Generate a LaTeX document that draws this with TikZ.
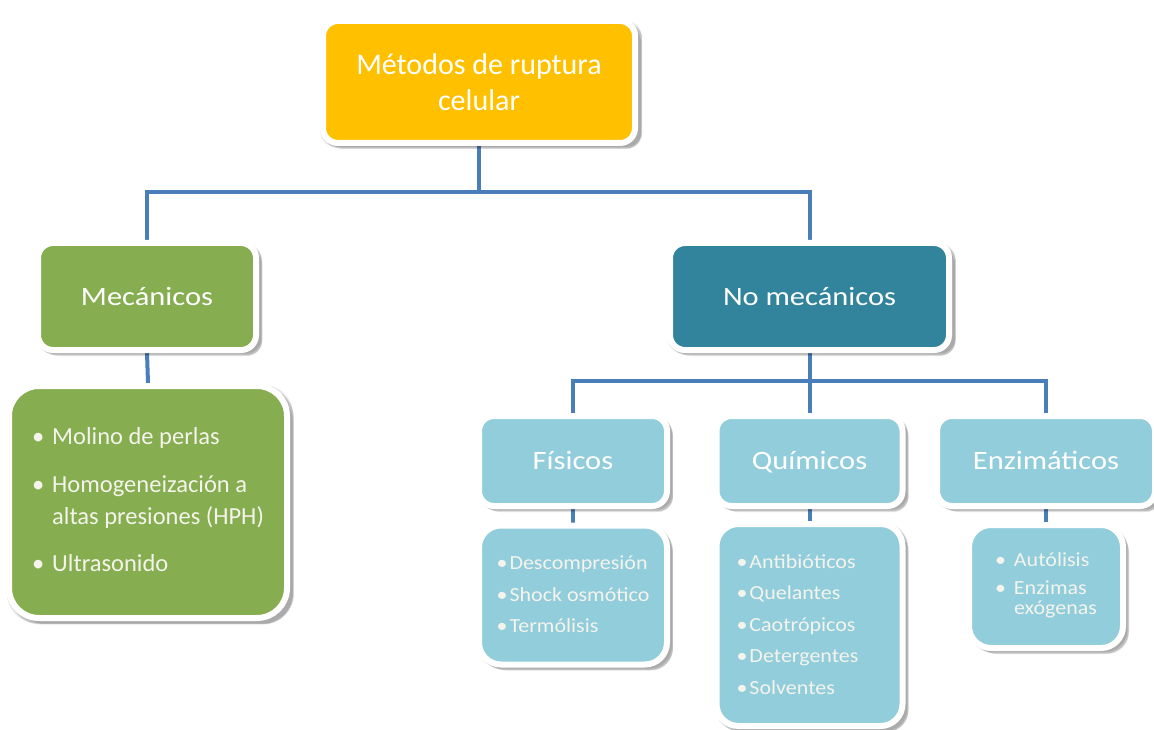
\documentclass[tikz,border=0pt]{standalone}
\usepackage{fontspec}
\setmainfont{Carlito}
\newfontfamily\hdfont{Carlito}[FakeStretch=1.15]
\newfontfamily\lsfont{Carlito}[FakeStretch=1.1]
\usetikzlibrary{shadows,backgrounds}
\definecolor{cyellow}{HTML}{FFC000}
\definecolor{cgreen}{HTML}{86AD4F}
\definecolor{cteal}{HTML}{31849B}
\definecolor{clight}{HTML}{92CDDC}
\definecolor{cline}{HTML}{4A7EBB}
\definecolor{ctext}{HTML}{F4F4EC}
\tikzset{
  box/.style={rounded corners=15pt, draw=white, line width=6pt, align=center, inner sep=0pt,
    drop shadow={shadow xshift=2pt, shadow yshift=-2pt, shadow scale=1.03, opacity=0.10, fill=black},
    drop shadow={shadow xshift=4pt, shadow yshift=-4pt, shadow scale=1.02, opacity=0.15, fill=black},
    drop shadow={shadow xshift=6pt, shadow yshift=-6pt, opacity=0.12, fill=black}},
  hd/.style={box, text=white, font=\hdfont\fontsize{26.5}{34}\selectfont, text height=22pt, text depth=5pt},
  lst/.style={box, text=ctext},
  conn/.style={draw=cline, line width=4pt}
}
\begin{document}
\begin{tikzpicture}[x=1pt,y=-1pt]
\useasboundingbox (0,0) rectangle (1154,730);
\node[box, fill=cyellow, minimum width=312pt, minimum height=122pt, text=white,
  font=\fontsize{30}{36}\selectfont] (top) at (479,82) {Métodos de ruptura\\celular};
\node[hd, fill=cgreen, minimum width=218pt, minimum height=107pt] (mec) at (147,296.5) {Mecánicos};
\node[hd, fill=cteal, minimum width=279pt, minimum height=107pt] (nomec) at (809.5,296.5) {No mecánicos};
\node[lst, fill=cgreen, rounded corners=30pt, minimum width=278pt, minimum height=232pt,
  font=\fontsize{24.5}{32}\selectfont] (mlist) at (148,502)
  {\begin{tabular}{@{}l@{\hspace{8pt}}l@{}}•&Molino de perlas\\[16pt]
   •&Homogeneización a\\ &altas presiones (HPH)\\[15pt]
   •&Ultrasonido\end{tabular}};
\node[hd, fill=clight, minimum width=188pt, minimum height=90pt] (fis) at (573,461) {Físicos};
\node[hd, fill=clight, minimum width=186pt, minimum height=90pt] (qui) at (809.5,461) {Químicos};
\node[hd, fill=clight, minimum width=218pt, minimum height=90pt] (enz) at (1046,461) {Enzimáticos};
\node[lst, fill=clight, rounded corners=22pt, minimum width=188pt, minimum height=139pt,
  font=\lsfont\fontsize{20}{31.5}\selectfont] (flist) at (573,595)
  {\begin{tabular}{@{}l@{\hspace{2pt}}l@{}}•&Descompresión\\ •&Shock osmótico\\ •&Termólisis\end{tabular}};
\node[lst, fill=clight, rounded corners=22pt, minimum width=186pt, minimum height=202pt,
  font=\lsfont\fontsize{20}{31.5}\selectfont] (qlist) at (809.5,625)
  {\begin{tabular}{@{}l@{\hspace{2pt}}l@{}}•&Antibióticos\\ •&Quelantes\\ •&Caotrópicos\\ •&Detergentes\\ •&Solventes\end{tabular}\hspace{24pt}};
\node[lst, fill=clight, rounded corners=22pt, minimum width=154pt, minimum height=123pt,
  font=\lsfont\fontsize{20}{20.5}\selectfont] (elist) at (1046,586.5)
  {\begin{tabular}{@{}l@{\hspace{8pt}}l@{}}•&Autólisis\\[7.5pt] •&Enzimas\\ &exógenas\end{tabular}};
\coordinate (j1) at (479,192);
\coordinate (j2) at (809.5,381);
\begin{pgfonlayer}{background}
\fill[white] (0,0) rectangle (1154,730);
\draw[conn] (top.south) -- (j1);
\draw[conn] (mec.north) |- (j1) -| (nomec.north);
\draw[conn] (mec.south) -- (mlist.north);
\draw[conn] (nomec.south) -- (j2);
\draw[conn] (fis.north) |- (j2) -| (enz.north);
\draw[conn] (j2) -- (qui.north);
\draw[conn] (fis.south) -- (flist.north);
\draw[conn] (qui.south) -- (qlist.north);
\draw[conn] (enz.south) -- (elist.north);
\end{pgfonlayer}
\end{tikzpicture}
\end{document}
